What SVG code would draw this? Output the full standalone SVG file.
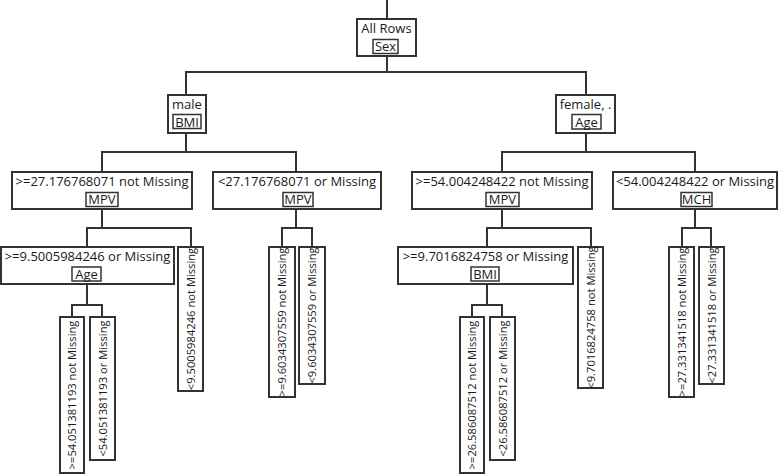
<svg xmlns="http://www.w3.org/2000/svg" width="779" height="474" viewBox="0 0 779 474">
<style>
.box{fill:#fff;stroke:#333;stroke-width:2}
.ibox{fill:#fff;stroke:#333;stroke-width:1.5}
.t{font-family:"Open Sans","DejaVu Sans",sans-serif;font-size:13px;fill:#1a1a1a;text-anchor:middle}
.rt{font-family:"Open Sans","DejaVu Sans",sans-serif;font-size:11.2px;fill:#1a1a1a;text-anchor:middle}
.ln{fill:none;stroke:#333;stroke-width:2}
</style>
<rect width="779" height="474" fill="#fff"/>
<g id="connectors" class="ln">
<path d="M387,0V19"/>
<path d="M387,56V72M186,95V72H586V95"/>
<path d="M186,133V152M102,172V152H296V172"/>
<path d="M586,133V152M502,172V152H695V172"/>
<path d="M102,209V228M87,247V228H191V247"/>
<path d="M296,209V228M282,247V228H312V247"/>
<path d="M502,209V228M487,247V228H591V247"/>
<path d="M695,209V228M682,247V228H711V247"/>
<path d="M87,284V305M72,317V305H102V317"/>
<path d="M487,284V305M472,317V305H502V317"/>
</g>
<g id="root"><rect class="box" x="357" y="19" width="59" height="37"/><text class="t" x="386.5" y="33">All Rows</text><rect class="ibox" x="373" y="39.5" width="25" height="14"/><text class="t" x="385.5" y="51">Sex</text></g>
<g id="male"><rect class="box" x="168" y="95" width="38" height="38"/><text class="t" x="187" y="109">male</text><rect class="ibox" x="173" y="114.5" width="28" height="14"/><text class="t" x="187" y="126.5">BMI</text></g>
<g id="female"><rect class="box" x="556" y="95" width="59" height="38"/><text class="t" x="585.5" y="109">female, .</text><rect class="ibox" x="572" y="114.5" width="29" height="14.5"/><text class="t" x="586.5" y="126.5">Age</text></g>
<g id="n_bmi_ge"><rect class="box" x="12" y="172" width="180" height="37"/><text class="t" x="102" y="186">&gt;=27.176768071 not Missing</text><rect class="ibox" x="86" y="192.5" width="32" height="14"/><text class="t" x="102" y="204">MPV</text></g>
<g id="n_bmi_lt"><rect class="box" x="213" y="172" width="168" height="37"/><text class="t" x="297" y="186">&lt;27.176768071 or Missing</text><rect class="ibox" x="283" y="192.5" width="30" height="14"/><text class="t" x="298" y="204">MPV</text></g>
<g id="n_age_ge"><rect class="box" x="412" y="172" width="180" height="37"/><text class="t" x="502" y="186">&gt;=54.004248422 not Missing</text><rect class="ibox" x="486" y="192.5" width="33" height="14"/><text class="t" x="502.5" y="204">MPV</text></g>
<g id="n_age_lt"><rect class="box" x="613" y="172" width="164" height="37"/><text class="t" x="695" y="186">&lt;54.004248422 or Missing</text><rect class="ibox" x="681" y="192.5" width="31" height="14"/><text class="t" x="696.5" y="204">MCH</text></g>
<g id="n_mpv1_ge"><rect class="box" x="1" y="247" width="173" height="37"/><text class="t" x="87.5" y="261">&gt;=9.5005984246 or Missing</text><rect class="ibox" x="72" y="267" width="29" height="14"/><text class="t" x="86.5" y="278.5">Age</text></g>
<g id="n_mpv3_ge"><rect class="box" x="398" y="247" width="175" height="37"/><text class="t" x="485.5" y="261">&gt;=9.7016824758 or Missing</text><rect class="ibox" x="471" y="267" width="28" height="14"/><text class="t" x="485" y="278.5">BMI</text></g>
<g id="leaf1"><rect class="box" x="60" y="317" width="24" height="156"/><text class="rt" transform="translate(72,395) rotate(-90)" y="4">&gt;=54.051381193 not Missing</text></g>
<g id="leaf2"><rect class="box" x="90" y="317" width="25" height="143"/><text class="rt" transform="translate(102.5,388.5) rotate(-90)" y="4">&lt;54.051381193 or Missing</text></g>
<g id="leaf3"><rect class="box" x="178" y="247" width="25" height="144"/><text class="rt" transform="translate(190.5,319) rotate(-90)" y="4">&lt;9.5005984246 not Missing</text></g>
<g id="leaf4"><rect class="box" x="269" y="247" width="26" height="150"/><text class="rt" transform="translate(282,322) rotate(-90)" y="4">&gt;=9.6034307559 not Missing</text></g>
<g id="leaf5"><rect class="box" x="299" y="247" width="26" height="137"/><text class="rt" transform="translate(312,315.5) rotate(-90)" y="4">&lt;9.6034307559 or Missing</text></g>
<g id="leaf6"><rect class="box" x="460" y="317" width="24" height="156"/><text class="rt" transform="translate(472,395) rotate(-90)" y="4">&gt;=26.586087512 not Missing</text></g>
<g id="leaf7"><rect class="box" x="490" y="317" width="25" height="143"/><text class="rt" transform="translate(502.5,388.5) rotate(-90)" y="4">&lt;26.586087512 or Missing</text></g>
<g id="leaf8"><rect class="box" x="578" y="247" width="25" height="141"/><text class="rt" transform="translate(590.5,317.5) rotate(-90)" y="4">&lt;9.7016824758 not Missing</text></g>
<g id="leaf9"><rect class="box" x="669" y="247" width="25" height="150"/><text class="rt" transform="translate(681.5,322) rotate(-90)" y="4">&gt;=27.331341518 not Missing</text></g>
<g id="leaf10"><rect class="box" x="699" y="247" width="25" height="137"/><text class="rt" transform="translate(711.5,315.5) rotate(-90)" y="4">&lt;27.331341518 or Missing</text></g>
</svg>
